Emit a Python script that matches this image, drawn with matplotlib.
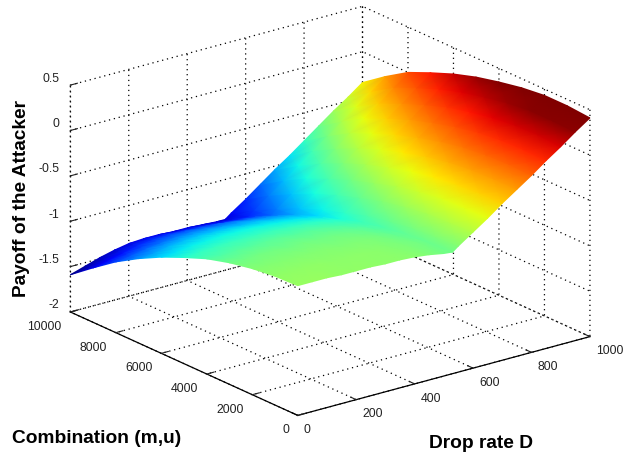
import numpy as np
import matplotlib
matplotlib.use('Agg')
import matplotlib.pyplot as plt
from mpl_toolkits.mplot3d import proj3d

plt.rcParams['font.family'] = ['Liberation Sans', 'DejaVu Sans']
plt.rcParams['grid.color'] = 'black'
plt.rcParams['grid.linestyle'] = (0, (1, 3))
plt.rcParams['grid.linewidth'] = 0.9

drop_rate = [0, 50, 100, 150, 200, 250, 300, 350, 400, 450, 500, 530,
             550, 600, 650, 700, 750, 800, 850, 900, 950, 1000]
combination = [0, 1000, 2000, 3000, 4000, 5000, 6000, 7000, 8000, 9000, 10000]

# one list per drop rate, values read along combination
payoff_by_drop = [
    [-0.57, -0.58, -0.61, -0.66, -0.73, -0.83, -0.94, -1.07, -1.22, -1.40, -1.59],
    [-0.57, -0.58, -0.61, -0.66, -0.73, -0.81, -0.92, -1.05, -1.19, -1.36, -1.54],
    [-0.57, -0.58, -0.61, -0.65, -0.72, -0.80, -0.90, -1.02, -1.16, -1.32, -1.49],
    [-0.58, -0.58, -0.61, -0.65, -0.72, -0.79, -0.89, -1.00, -1.14, -1.28, -1.45],
    [-0.58, -0.59, -0.61, -0.66, -0.71, -0.79, -0.88, -0.99, -1.12, -1.26, -1.42],
    [-0.58, -0.59, -0.61, -0.65, -0.71, -0.79, -0.88, -0.99, -1.11, -1.25, -1.41],
    [-0.59, -0.59, -0.62, -0.66, -0.72, -0.79, -0.88, -0.99, -1.11, -1.25, -1.41],
    [-0.59, -0.60, -0.62, -0.66, -0.72, -0.80, -0.89, -1.00, -1.12, -1.26, -1.42],
    [-0.60, -0.61, -0.63, -0.67, -0.73, -0.81, -0.90, -1.00, -1.12, -1.26, -1.42],
    [-0.62, -0.63, -0.65, -0.69, -0.75, -0.82, -0.91, -1.02, -1.14, -1.28, -1.43],
    [-0.65, -0.65, -0.68, -0.72, -0.77, -0.84, -0.93, -1.03, -1.15, -1.29, -1.44],
    [-0.66, -0.67, -0.69, -0.73, -0.78, -0.86, -0.94, -1.04, -1.16, -1.29, -1.44],
    [-0.61, -0.62, -0.64, -0.68, -0.73, -0.81, -0.89, -0.99, -1.11, -1.24, -1.39],
    [-0.50, -0.51, -0.52, -0.56, -0.61, -0.69, -0.77, -0.87, -0.99, -1.12, -1.28],
    [-0.39, -0.39, -0.40, -0.44, -0.49, -0.57, -0.65, -0.75, -0.86, -1.00, -1.16],
    [-0.27, -0.27, -0.29, -0.32, -0.37, -0.44, -0.52, -0.62, -0.74, -0.88, -1.04],
    [-0.16, -0.16, -0.17, -0.20, -0.25, -0.32, -0.40, -0.50, -0.62, -0.76, -0.93],
    [-0.05, -0.04, -0.05, -0.08, -0.13, -0.20, -0.28, -0.38, -0.49, -0.64, -0.81],
    [0.07, 0.08, 0.07, 0.04, -0.01, -0.08, -0.16, -0.26, -0.37, -0.52, -0.69],
    [0.18, 0.20, 0.19, 0.16, 0.11, 0.05, -0.04, -0.14, -0.25, -0.40, -0.57],
    [0.30, 0.31, 0.31, 0.28, 0.23, 0.17, 0.09, -0.01, -0.12, -0.28, -0.46],
    [0.41, 0.43, 0.43, 0.40, 0.35, 0.29, 0.21, 0.11, 0.00, -0.16, -0.34],
]

x_ticks = [0, 200, 400, 600, 800, 1000]
y_ticks = [0, 2000, 4000, 6000, 8000, 10000]
z_ticks = [-2, -1.5, -1, -0.5, 0, 0.5]
z_tick_labels = ['-2', '-1.5', '-1', '-0.5', '0', '0.5']

fig = plt.figure(figsize=(6.42, 4.54), dpi=100)
ax = fig.add_axes([3 / 642, 10 / 454, 1, 1], projection='3d', proj_type='ortho')
ax.view_init(elev=20.5, azim=-127.6)
ax.set_box_aspect((370, 374, 243), zoom=1.235)

ax.set_xlim(0, 1000)
ax.set_ylim(0, 10000)
ax.set_zlim(-2, 0.5)
ax.set_xticks(x_ticks)
ax.set_yticks(y_ticks)
ax.set_zticks(z_ticks)
ax.set_zticklabels(z_tick_labels)
ax.tick_params(labelsize=8.8, colors='#222222')
ax.tick_params(axis='x', pad=-3.5)
ax.tick_params(axis='y', pad=-3.0)
ax.tick_params(axis='z', pad=-4.3)

for label in ax.get_xticklabels():
    label.set_ha('left')
for label in ax.get_yticklabels():
    label.set_ha('right')
for label in ax.get_zticklabels():
    label.set_ha('right')
    label.set_va('bottom')

for axis in (ax.xaxis, ax.yaxis, ax.zaxis):
    axis.pane.set_facecolor('white')
    axis.pane.set_edgecolor('white')
    axis.line.set_color('black')
    axis.line.set_linewidth(0.9)
    axis._axinfo['tick']['inward_factor'] = 0.0
    axis._axinfo['tick']['outward_factor'] = 0.3
    axis._axinfo['tick']['linewidth'] = {True: 0.8, False: 0.8}
ax.zaxis.line.set_linestyle((0, (1, 3)))

# surface goes through the 3d projection, then gouraud shading on a pixel overlay
fig.canvas.draw()
X, Y = np.meshgrid(drop_rate, combination, indexing='ij')
Z = np.array(payoff_by_drop)
xs, ys, _ = proj3d.proj_transform(X.ravel(), Y.ravel(), Z.ravel(), ax.get_proj())
px = ax.transData.transform(np.column_stack([xs, ys]))

overlay = fig.add_axes([0, 0, 1, 1])
overlay.set_xlim(0, 642)
overlay.set_ylim(0, 454)
overlay.axis('off')
overlay.pcolormesh(px[:, 0].reshape(X.shape), px[:, 1].reshape(X.shape), Z,
                   shading='gouraud', cmap='jet', vmin=-1.59, vmax=0.33)

fig.text(0.018, 0.025, 'Combination (m,u)', fontsize=13.8, fontweight='bold')
fig.text(0.669, 0.013, 'Drop rate D', fontsize=13.8, fontweight='bold')
fig.text(0.034, 0.562, 'Payoff of the Attacker', fontsize=13.8, fontweight='bold',
         rotation=90, ha='center', va='center')

fig.savefig('out.png', dpi=100)
